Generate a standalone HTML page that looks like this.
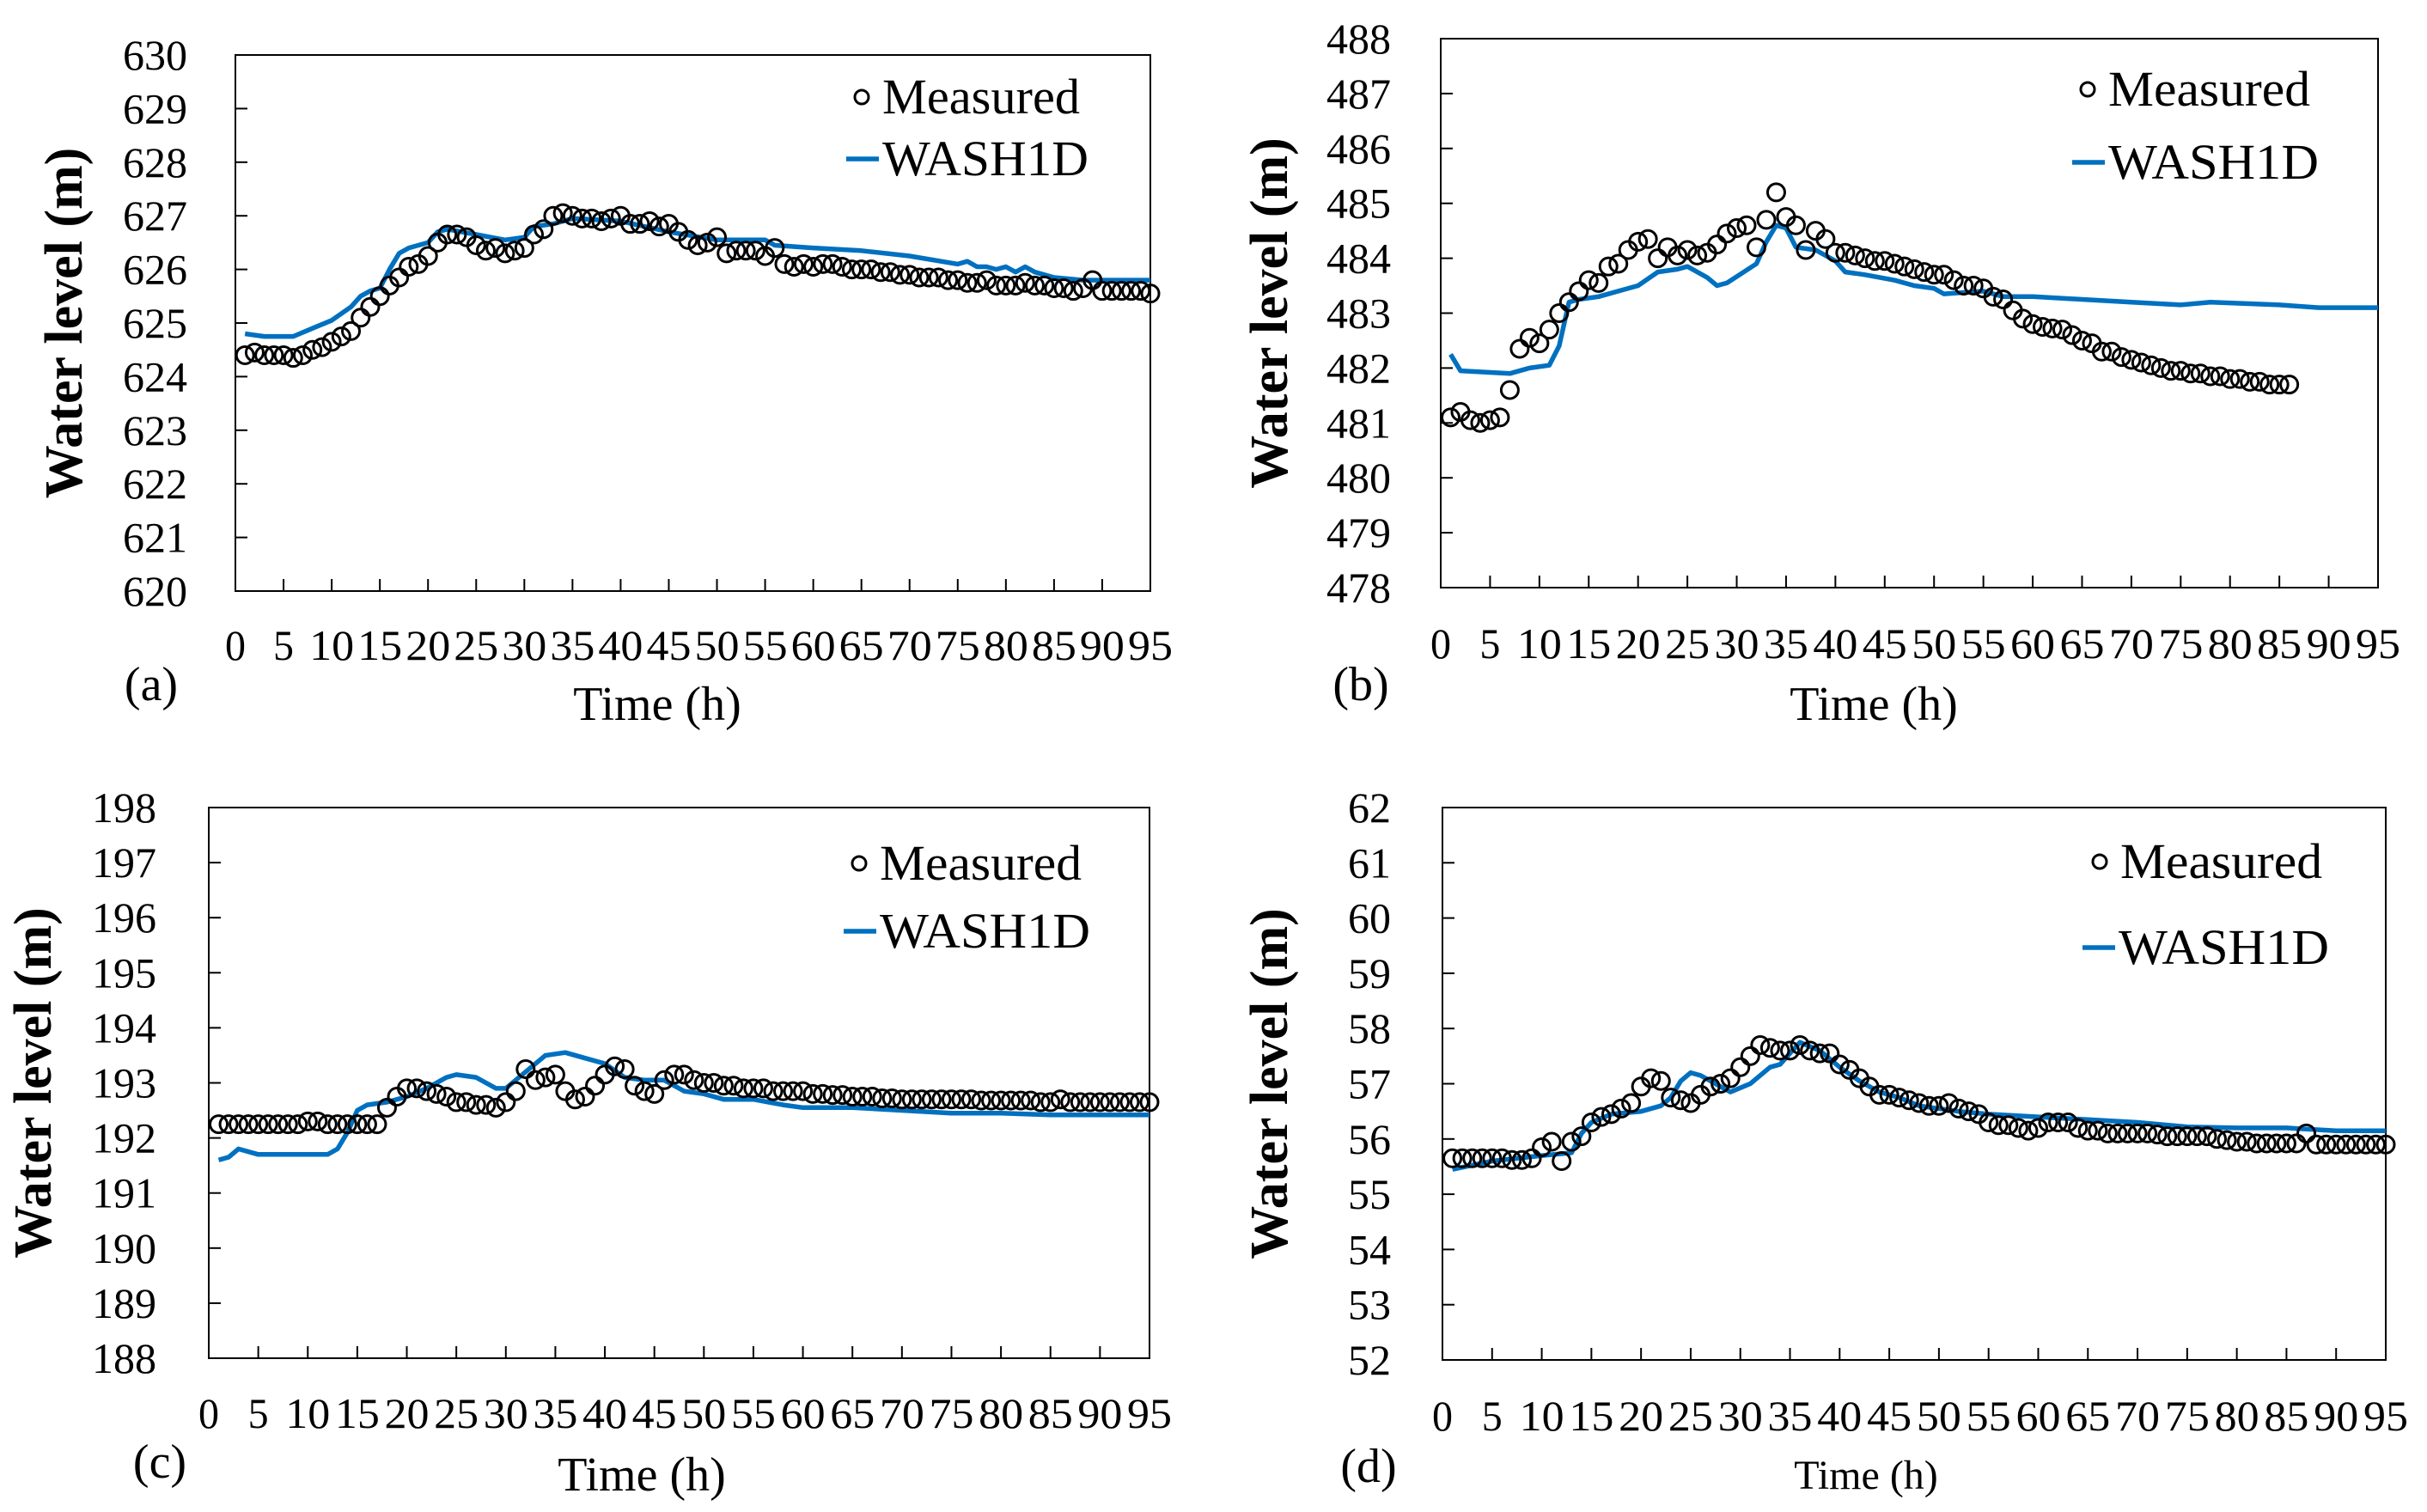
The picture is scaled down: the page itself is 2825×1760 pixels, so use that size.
<!DOCTYPE html>
<html><head><meta charset="utf-8"><style>
html,body{margin:0;padding:0;background:#fff;}
svg{display:block;}
text{font-family:"Liberation Serif","DejaVu Serif",serif;fill:#000;}
</style></head><body>
<svg id="fig" width="2825" height="1760" viewBox="0 0 2825 1760" xmlns="http://www.w3.org/2000/svg"></svg>
<script>
// ---- data (hourly measured series start at hour 1) ----
const xTickLabels = [0,5,10,15,20,25,30,35,40,45,50,55,60,65,70,75,80,85,90,95];
const yTicksA = [620,621,622,623,624,625,626,627,628,629,630];
const yTicksB = [478,479,480,481,482,483,484,485,486,487,488];
const yTicksC = [188,189,190,191,192,193,194,195,196,197,198];
const yTicksD = [52,53,54,55,56,57,58,59,60,61,62];

const measA = [624.4,624.45,624.4,624.4,624.4,624.35,624.4,624.5,624.55,624.65,624.75,624.85,625.1,625.3,625.5,625.7,625.85,626.05,626.1,626.25,626.5,626.65,626.65,626.6,626.45,626.35,626.4,626.3,626.35,626.4,626.65,626.75,627.0,627.05,627.0,626.95,626.95,626.9,626.95,627.0,626.85,626.85,626.9,626.8,626.85,626.7,626.55,626.45,626.5,626.6,626.3,626.35,626.35,626.35,626.25,626.4,626.1,626.05,626.1,626.05,626.1,626.1,626.05,626.0,626.0,626.0,625.95,625.95,625.9,625.9,625.85,625.85,625.85,625.8,625.8,625.75,625.75,625.8,625.7,625.7,625.7,625.75,625.7,625.7,625.65,625.65,625.6,625.65,625.8,625.6,625.6,625.6,625.6,625.6,625.55];
const simTimeA = [1,3,6,8,10,12,13,14,15,16,17,18,20,21,22,25,28,30,31,33,35,40,45,50,55,56,60,65,70,75,76,77,78,79,80,81,82,83,85,88,95];
const simA = [624.8,624.75,624.75,624.9,625.05,625.3,625.5,625.6,625.65,626.0,626.3,626.4,626.5,626.7,626.75,626.65,626.55,626.6,626.8,626.85,626.95,626.9,626.7,626.55,626.55,626.45,626.4,626.35,626.25,626.1,626.15,626.05,626.05,626.0,626.05,625.95,626.05,625.95,625.85,625.8,625.8];

const measB = [481.1,481.2,481.05,481.0,481.05,481.1,481.6,482.35,482.55,482.45,482.7,483.0,483.2,483.4,483.6,483.55,483.85,483.9,484.15,484.3,484.35,484.0,484.2,484.05,484.15,484.05,484.1,484.25,484.45,484.55,484.6,484.2,484.7,485.2,484.75,484.6,484.15,484.5,484.35,484.1,484.1,484.05,484.0,483.95,483.95,483.9,483.85,483.8,483.75,483.7,483.7,483.6,483.5,483.5,483.45,483.3,483.25,483.05,482.9,482.8,482.75,482.72,482.7,482.6,482.5,482.45,482.3,482.3,482.2,482.15,482.1,482.05,482.0,481.95,481.95,481.9,481.9,481.85,481.85,481.8,481.8,481.75,481.75,481.7,481.7,481.7];
const simTimeB = [1,2,5,7,9,11,12,13,14,16,18,20,22,24,25,27,28,29,32,33,34,35,36,38,40,41,43,46,48,50,51,55,57,60,65,70,75,78,85,89,95];
const simB = [482.25,481.95,481.92,481.9,482.0,482.05,482.4,483.2,483.25,483.3,483.4,483.5,483.75,483.8,483.85,483.65,483.5,483.55,483.9,484.3,484.6,484.55,484.2,484.15,483.95,483.75,483.7,483.6,483.5,483.45,483.35,483.4,483.3,483.3,483.25,483.2,483.15,483.2,483.15,483.1,483.1];

const measC = [192.25,192.25,192.25,192.25,192.25,192.25,192.25,192.25,192.25,192.3,192.3,192.25,192.25,192.25,192.25,192.25,192.25,192.55,192.75,192.9,192.9,192.85,192.8,192.75,192.65,192.65,192.6,192.6,192.55,192.65,192.85,193.25,193.05,193.1,193.15,192.85,192.7,192.75,192.95,193.15,193.3,193.25,192.95,192.85,192.8,193.05,193.15,193.15,193.05,193.0,193.0,192.95,192.95,192.9,192.9,192.9,192.85,192.85,192.85,192.85,192.8,192.8,192.78,192.78,192.75,192.75,192.75,192.72,192.72,192.7,192.7,192.7,192.7,192.7,192.7,192.7,192.7,192.68,192.68,192.68,192.68,192.68,192.68,192.65,192.65,192.7,192.65,192.65,192.65,192.65,192.65,192.65,192.65,192.65,192.65];
const simTimeC = [1,2,3,5,8,10,12,13,14,15,16,18,20,22,24,25,27,29,30,32,34,36,38,40,42,44,46,48,50,52,55,58,60,65,70,75,80,85,95];
const simC = [191.6,191.65,191.8,191.7,191.7,191.7,191.7,191.8,192.1,192.5,192.6,192.65,192.75,192.9,193.1,193.15,193.1,192.9,192.9,193.2,193.5,193.55,193.45,193.35,193.1,193.05,193.05,192.85,192.8,192.7,192.7,192.6,192.55,192.55,192.5,192.45,192.45,192.42,192.42];

const measD = [55.65,55.65,55.65,55.65,55.65,55.65,55.62,55.62,55.65,55.85,55.95,55.6,55.95,56.05,56.3,56.4,56.45,56.55,56.65,56.95,57.1,57.05,56.75,56.7,56.65,56.8,56.95,57.0,57.1,57.3,57.5,57.7,57.65,57.6,57.6,57.7,57.6,57.55,57.55,57.35,57.25,57.1,56.95,56.8,56.8,56.75,56.7,56.65,56.6,56.6,56.65,56.55,56.5,56.45,56.3,56.25,56.25,56.2,56.15,56.2,56.3,56.3,56.3,56.2,56.15,56.15,56.1,56.1,56.1,56.1,56.1,56.08,56.05,56.05,56.05,56.05,56.05,56.0,55.98,55.95,55.95,55.92,55.92,55.92,55.92,55.92,56.1,55.9,55.9,55.9,55.9,55.9,55.9,55.9,55.9];
const simTimeD = [1,5,10,13,14,15,17,20,22,23,24,25,26,28,29,31,33,34,35,36,38,40,42,44,46,48,52,55,60,65,70,75,80,85,90,95];
const simD = [55.45,55.6,55.7,55.75,56.1,56.3,56.45,56.5,56.6,56.75,57.05,57.2,57.15,56.95,56.85,57.0,57.3,57.35,57.55,57.75,57.6,57.3,57.05,56.85,56.75,56.6,56.5,56.45,56.4,56.35,56.3,56.22,56.2,56.2,56.15,56.15];

// ---- drawing ----
const NS = "http://www.w3.org/2000/svg";
const svg = document.getElementById('fig');
function mk(tag, attrs, parent){
  const e = document.createElementNS(NS, tag);
  for (const k in attrs) e.setAttribute(k, attrs[k]);
  (parent||svg).appendChild(e);
  return e;
}
function panel(P, id, yTicks, meas, simT, simV){
  const g = mk('g', {});
  
  
  const y0 = yTicks[0], y1 = yTicks[yTicks.length-1];
  const sx = t => P.l + (t - 0) / 95 * (P.r - P.l);
  const sy = v => P.b - (v - y0) / (y1 - y0) * (P.b - P.t);
  const frame = mk('rect', {x:P.l, y:P.t, width:P.r-P.l, height:P.b-P.t, fill:'none', stroke:'#000', 'stroke-width':2}, g);
  
  
  yTicks.forEach(v => {
    const y = sy(v);
    const tk = mk('line', {x1:P.l, x2:P.l+14, y1:y, y2:y, stroke:'#000', 'stroke-width':2}, g);
    
    
    const t = mk('text', {x:P.yl, y:y+17, 'text-anchor':'end', 'font-size':50}, g);
    t.textContent = v;
    
    
  });
  xTickLabels.forEach(v => {
    const x = sx(v);
    const tk = mk('line', {x1:x, x2:x, y1:P.b, y2:P.b-14, stroke:'#000', 'stroke-width':2}, g);
    
    
    const t = mk('text', {x:x, y:P.xl, 'text-anchor':'middle', 'font-size':50, 'textLength': String(v).length>1?52:24, 'lengthAdjust':'spacingAndGlyphs'}, g);
    t.textContent = v;
    
    
  });
  const yt = mk('text', {x:0, y:0, transform:`translate(${P.yt},${(P.t+P.b)/2}) rotate(-90)`, 'text-anchor':'middle', 'font-size':62, 'font-weight':'bold'}, g);
  yt.textContent = 'Water level (m)';
  
  
  const xt = mk('text', {x:P.xtx, y:P.xty, 'text-anchor':'middle', 'font-size':P.xfs}, g);
  xt.textContent = 'Time (h)';
  
  
  const pl = mk('text', {x:P.px, y:P.py, 'text-anchor':'middle', 'font-size':56}, g);
  pl.textContent = '(' + id + ')';
  
  
  // simulated line
  let d = '';
  simT.forEach((t,i) => { d += (i?'L':'M') + sx(t).toFixed(1) + ',' + sy(simV[i]).toFixed(1); });
  const ln = mk('path', {d:d, fill:'none', stroke:'#0070C0', 'stroke-width':5.5, 'stroke-linejoin':'round'}, g);
  
  
  // measured circles
  meas.forEach((v,i) => {
    const c = mk('circle', {cx:sx(i+1), cy:sy(v), r:10, fill:'none', stroke:'#000', 'stroke-width':3}, g);
    
    
  });
  // legend
  const lg = mk('g', {}, g);
  
  
  const lc = mk('circle', {cx:P.lcx, cy:P.lmy, r:8, fill:'none', stroke:'#000', 'stroke-width':3}, lg);
  
  
  const lt1 = mk('text', {x:P.lcx+24, y:P.lmy+19, 'font-size':58, textLength:P.mw, lengthAdjust:'spacingAndGlyphs'}, lg);
  lt1.textContent = 'Measured';
  
  
  const ll = mk('line', {x1:P.lx1, x2:P.lx1+38, y1:P.lwy, y2:P.lwy, stroke:'#0070C0', 'stroke-width':5.5}, lg);
  
  
  const lt2 = mk('text', {x:P.lx1+42, y:P.lwy+19, 'font-size':58, textLength:P.ww, lengthAdjust:'spacingAndGlyphs'}, lg);
  lt2.textContent = 'WASH1D';
  
  
}
panel({l:274,r:1339,t:64,b:688,yl:218,xl:768,yt:95,xtx:765,xty:838,xfs:56,px:176,py:815,lcx:1003,lmy:113,lx1:985,lwy:185,mw:230,ww:240}, 'a', yTicksA, measA, simTimeA, simA);
panel({l:1677,r:2768,t:45,b:684,yl:1619,xl:766,yt:1498,xtx:2181,xty:838,xfs:56,px:1584,py:815,lcx:2430,lmy:104,lx1:2412,lwy:189,mw:235,ww:245}, 'b', yTicksB, measB, simTimeB, simB);
panel({l:243,r:1338,t:940,b:1581,yl:182,xl:1662,yt:59,xtx:747,xty:1735,xfs:56,px:186,py:1720,lcx:1000,lmy:1005,lx1:982,lwy:1084,mw:235,ww:245}, 'c', yTicksC, measC, simTimeC, simC);
panel({l:1679,r:2777,t:940,b:1583,yl:1619,xl:1665,yt:1498,xtx:2172,xty:1733,xfs:48,px:1593,py:1725,lcx:2444,lmy:1003,lx1:2424,lwy:1103,mw:235,ww:245}, 'd', yTicksD, measD, simTimeD, simD);
</script>
</body></html>
